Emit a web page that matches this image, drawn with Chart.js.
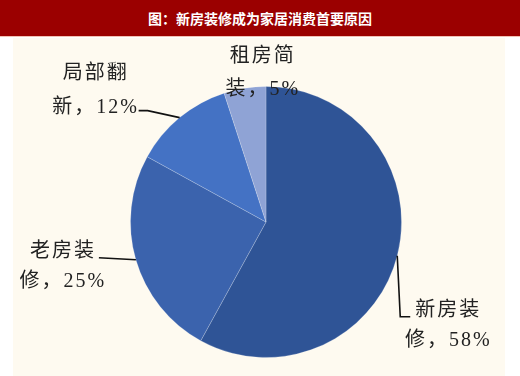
<!DOCTYPE html>
<html>
<head>
<meta charset="utf-8">
<script src="https://cdn.jsdelivr.net/npm/chart.js@4.4.1/dist/chart.umd.min.js"></script>
<style>
  html, body { margin: 0; padding: 0; background: #ffffff; }
  #wrap { position: relative; width: 520px; height: 376px; overflow: hidden; background: #ffffff; }
  #title { position: absolute; left: 0; top: 0; width: 520px; height: 36px; background: #9b0000;
           border-bottom: 1px solid #f2c2b4; color: #ffffff; font: bold 14px "Noto Sans CJK SC", sans-serif;
           line-height: 36px; text-align: center; }
  #panel { position: absolute; left: 13px; top: 38px; width: 492px; height: 338px; background: #fefaf0; }
  #c { position: absolute; left: 0; top: 0; }
</style>
</head>
<body>
<div id="wrap">
  <div id="title">图：新房装修成为家居消费首要原因</div>
  <div id="panel"></div>
  <canvas id="c" width="520" height="376"></canvas>
</div>
<script>
const categories = ['新房装修', '老房装修', '局部翻新', '租房简装'];
const values = [58, 25, 12, 5];
const sliceColors = ['#2f5496', '#3b63ad', '#4472c4', '#8fa3d5'];

// label styling: text block centre offset from slice edge midpoint, leader line offsets, line spacing
const labelOffsets = [[50, 55], [-74, -8], [-85, -44], [17, -31]];
const leaderPaths = [
  [[0, 0], [3, 61], [13, 61]],
  [[0, 0], [-37, -2]],
  [[0, 0], [-32, -7], [-41, -7]],
  []
];
const lineGaps = [30, 30, 34, 33];

const outsideLabels = {
  id: 'outsideLabels',
  afterDatasetsDraw(chart) {
    const ctx = chart.ctx;
    const meta = chart.getDatasetMeta(0);
    meta.data.forEach((arc, i) => {
      const p = arc.getProps(['x', 'y', 'startAngle', 'endAngle', 'outerRadius'], true);
      const mid = (p.startAngle + p.endAngle) / 2;
      const ex = p.x + Math.cos(mid) * p.outerRadius;
      const ey = p.y + Math.sin(mid) * p.outerRadius;
      const path = leaderPaths[i];
      ctx.save();
      if (path.length) {
        ctx.strokeStyle = '#111111';
        ctx.lineWidth = 1.6;
        ctx.beginPath();
        path.forEach((pt, k) => {
          if (k === 0) ctx.moveTo(ex + pt[0], ey + pt[1]);
          else ctx.lineTo(ex + pt[0], ey + pt[1]);
        });
        ctx.stroke();
      }
      const name = categories[i];
      const line1 = name.slice(0, 3);
      const line2 = name.slice(3) + '，' + values[i] + '%';
      const cx = ex + labelOffsets[i][0];
      const cy = ey + labelOffsets[i][1];
      ctx.fillStyle = '#222222';
      ctx.font = '20px "Liberation Serif", "Noto Sans CJK SC", serif';
      ctx.letterSpacing = '2px';
      ctx.textAlign = 'center';
      ctx.textBaseline = 'middle';
      ctx.fillText(line1, cx + 1, cy);
      ctx.fillText(line2, cx + 1, cy + lineGaps[i]);
      ctx.restore();
    });
  }
};

new Chart(document.getElementById('c'), {
  type: 'pie',
  data: {
    labels: categories,
    datasets: [{
      data: values,
      backgroundColor: sliceColors,
      borderColor: 'rgba(255,255,255,0.2)',
      borderWidth: 1
    }]
  },
  options: {
    responsive: false,
    devicePixelRatio: 1,
    animation: false,
    layout: { padding: { left: 12, top: 86, right: 0, bottom: 18 } },
    plugins: {
      legend: { display: false },
      tooltip: { enabled: false },
      title: { display: false }
    }
  },
  plugins: [outsideLabels]
});
</script>
</body>
</html>
